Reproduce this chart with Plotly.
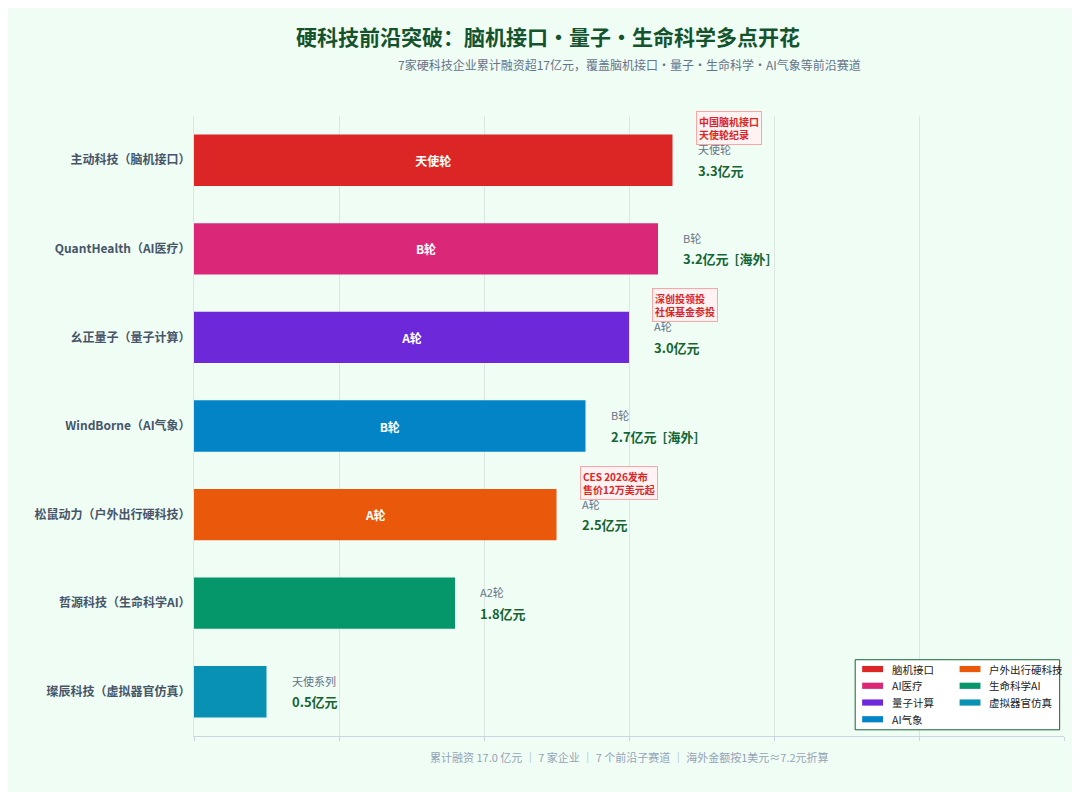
import plotly.graph_objects as go

# 数据
companies = ['主动科技（脑机接口）', 'QuantHealth（AI医疗）', '幺正量子（量子计算）', 'WindBorne（AI气象）',
             '松鼠动力（户外出行硬科技）', '哲源科技（生命科学AI）', '璨辰科技（虚拟器官仿真）']
amounts = [3.3, 3.2, 3.0, 2.7, 2.5, 1.8, 0.5]
rounds = ['天使轮', 'B轮', 'A轮', 'B轮', 'A轮', 'A2轮', '天使系列']
overseas = [False, True, False, True, False, False, False]
sectors = ['脑机接口', 'AI医疗', '量子计算', 'AI气象', '户外出行硬科技', '生命科学AI', '虚拟器官仿真']
colors = ['#dc2626', '#db2777', '#6d28d9', '#0284c7', '#ea580c', '#059669', '#0891b2']
notes = {0: '中国脑机接口<br>天使轮纪录', 2: '深创投领投<br>社保基金参投', 4: 'CES 2026发布<br>售价12万美元起'}

fig = go.Figure()
fig.add_trace(go.Bar(
    y=companies, x=amounts, orientation='h', width=0.58,
    marker=dict(color=colors, line=dict(width=0)),
    text=['<b>' + r + '</b>' if a >= 1 and r != 'A2轮' else '' for r, a in zip(rounds, amounts)],
    textposition='inside', insidetextanchor='middle',
    textfont=dict(color='white', size=12, family='Noto Sans CJK SC'),
    showlegend=False, hoverinfo='x+y'))

for i, (c, a) in enumerate(zip(companies, amounts)):
    fig.add_annotation(x=a + 0.16, y=c, text=rounds[i], showarrow=False, xanchor='left',
                       yshift=11, font=dict(size=11, color='#64748b'))
    label = '<b>%.1f亿元</b>' % a + ('<b>  [海外]</b>' if overseas[i] else '')
    fig.add_annotation(x=a + 0.16, y=c, text=label, showarrow=False, xanchor='left',
                       yshift=-10, font=dict(size=13, color='#166534'))
    if i in notes:
        fig.add_annotation(x=a + 0.16, y=c, text='<b>' + notes[i] + '</b>', showarrow=False,
                           xanchor='left', yshift=32, align='left',
                           font=dict(size=10, color='#dc2626'), bgcolor='#fef2f2',
                           bordercolor='#fca5a5', borderwidth=1, borderpad=2)

# 图例（两列）
lx0 = 0.76
fig.add_shape(type='rect', xref='paper', yref='paper', x0=lx0, x1=0.995, y0=0.01, y1=0.123,
              line=dict(color='#166534', width=1), fillcolor='white', layer='above')
cols = [[0, 1, 2, 3], [4, 5, 6]]
for ci, col in enumerate(cols):
    for ri, k in enumerate(col):
        xx = lx0 + 0.008 + ci * 0.112
        yy = 0.108 - ri * 0.027
        fig.add_shape(type='rect', xref='paper', yref='paper', x0=xx, x1=xx + 0.024,
                      y0=yy - 0.005, y1=yy + 0.005, fillcolor=colors[k], line=dict(width=0), layer='above')
        fig.add_annotation(xref='paper', yref='paper', x=xx + 0.032, y=yy, yanchor='middle',
                           text=sectors[k], showarrow=False, xanchor='left',
                           font=dict(size=10.5, color='#222'))

fig.update_layout(
    width=1080, height=792,
    paper_bgcolor='#f0fdf4', plot_bgcolor='#f0fdf4',
    font=dict(family='Noto Sans CJK SC'),
    margin=dict(l=186, r=24, t=108, b=64),
    title=dict(text='<b>硬科技前沿突破：脑机接口•量子•生命科学多点开花</b>', x=0.5, y=0.972,
               xanchor='center', font=dict(size=21, color='#14532d')),
)
fig.add_annotation(xref='paper', yref='paper', x=0.5, y=1.1, showarrow=False,
                   text='7家硬科技企业累计融资超17亿元，覆盖脑机接口·量子·生命科学·AI气象等前沿赛道',
                   font=dict(size=12, color='#64748b'))
fig.add_annotation(xref='paper', yref='paper', x=0.5, y=-0.05, showarrow=False,
                   text='累计融资 17.0 亿元 ｜ 7 家企业 ｜ 7 个前沿子赛道 ｜ 海外金额按1美元≈7.2元折算',
                   font=dict(size=11, color='#94a3b8'))
fig.update_xaxes(range=[0, 6], dtick=1, showticklabels=False, showgrid=True, gridcolor='#dbe7e0',
                 zeroline=False, showline=True, linecolor='#cbd5e1', ticks='outside',
                 tickcolor='#cbd5e1', ticklen=4)
fig.update_yaxes(autorange='reversed', tickfont=dict(size=12, color='#475569'),
                 ticksuffix='  ', showline=True, linecolor='#dbe7e0',
                 tickvals=companies, ticktext=['<b>' + c + '</b>' for c in companies])

fig.write_html("out.html")
